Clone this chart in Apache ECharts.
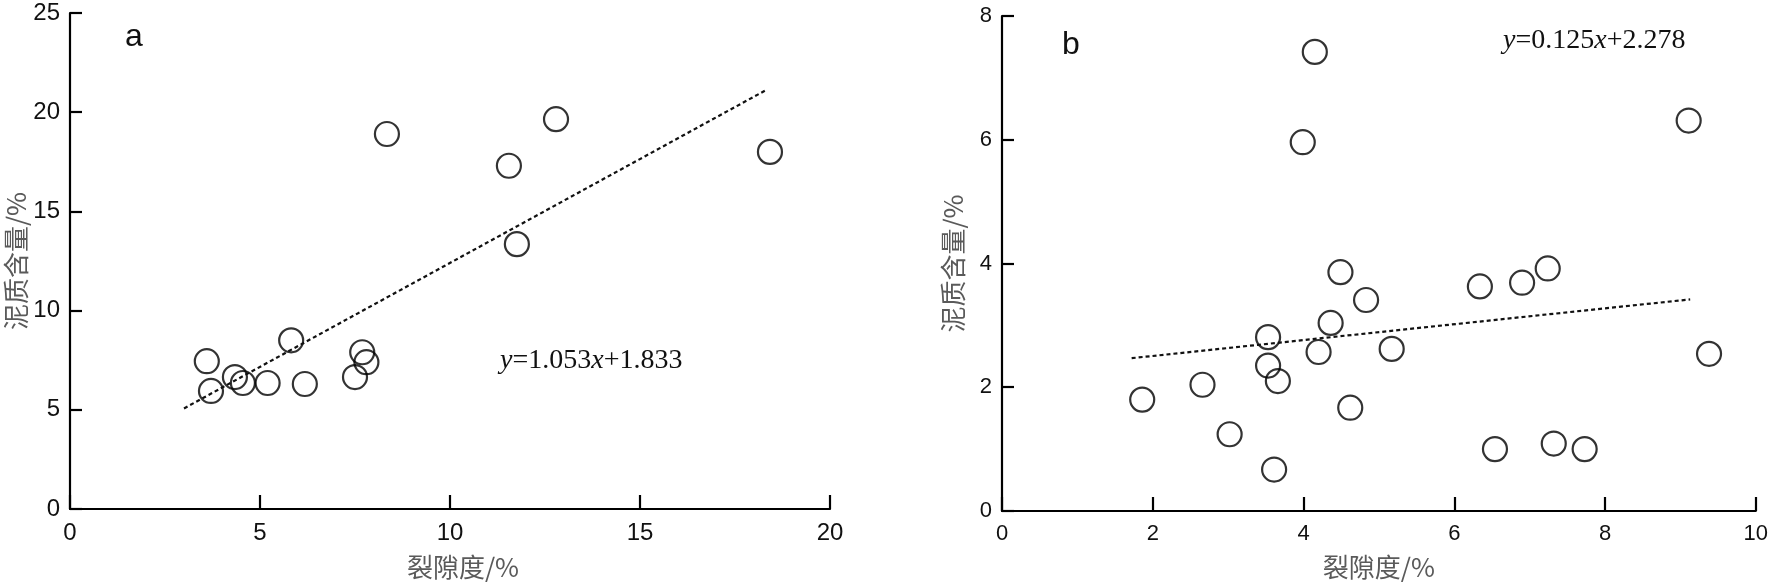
<!DOCTYPE html>
<html>
<head>
<meta charset="utf-8">
<script src="https://cdn.jsdelivr.net/npm/echarts@6/dist/echarts.min.js"></script>
<style>
  html, body { margin: 0; padding: 0; background: #fff; }
  #chart { width: 1771px; height: 585px; }
</style>
</head>
<body>
<div id="chart"></div>
<script>
// panel a: 裂隙度 vs 泥质含量
var aFracture = [3.6, 3.71, 4.34, 4.55, 5.2, 5.82, 6.18, 7.5, 7.69, 7.8, 8.34, 11.55, 11.76, 12.79, 18.42];
var aMud = [7.45, 5.95, 6.65, 6.35, 6.35, 8.5, 6.3, 6.65, 7.9, 7.4, 18.9, 17.3, 13.35, 19.65, 18.0];
var aFitLine = [[3.0, 5.07], [18.35, 21.15]];
var aEquation = ['1.053', '1.833'];

// panel b
var bFracture = [1.86, 2.66, 3.02, 3.53, 3.53, 3.66, 3.61, 3.99, 4.15, 4.2, 4.36, 4.49, 4.62, 4.83, 5.17, 6.34, 6.54, 6.9, 7.24, 7.32, 7.73, 9.11, 9.38];
var bMud = [1.8, 2.04, 1.24, 2.81, 2.35, 2.1, 0.67, 5.96, 7.42, 2.57, 3.04, 3.86, 1.67, 3.41, 2.62, 3.63, 1.0, 3.69, 3.92, 1.09, 1.0, 6.31, 2.54];
var bFitLine = [[1.72, 2.47], [9.13, 3.42]];
var bEquation = ['0.125', '2.278'];

var xName = '裂隙度/%';
var yName = '泥质含量/%';

function pairs(xs, ys) {
  var out = [];
  for (var i = 0; i < xs.length; i++) out.push([xs[i], ys[i]]);
  return out;
}

function axis(idx, min, max, interval, size, isX, tickLen, nameGap, namePad) {
  return {
    type: 'value',
    gridIndex: idx,
    position: isX ? 'bottom' : 'left',
    min: min,
    max: max,
    interval: interval,
    name: isX ? xName : yName,
    nameLocation: 'middle',
    nameGap: nameGap,
    nameTextStyle: {
      color: '#5a5a5a',
      fontSize: 26,
      fontFamily: 'Noto Sans CJK SC',
      padding: namePad || 0
    },
    axisLine: { show: true, onZero: false, lineStyle: { color: '#000', width: 2.2 } },
    axisTick: { show: true, inside: true, length: tickLen, lineStyle: { color: '#000', width: 2.2 } },
    axisLabel: {
      color: '#111',
      fontSize: size,
      fontFamily: 'Liberation Sans',
      margin: isX ? 12 : 10
    },
    splitLine: { show: false }
  };
}

var eqRich = {
  n: { fontFamily: 'Liberation Serif', fontSize: 28, fontWeight: 'normal', color: '#111' },
  i: { fontFamily: 'Liberation Serif', fontSize: 28, fontWeight: 'normal', fontStyle: 'italic', color: '#111' }
};

var circleStyle = {
  color: 'rgba(0,0,0,0)',
  borderColor: '#000',
  borderWidth: 2.2
};

var option = {
  animation: false,
  title: [
    { text: 'a', left: 120, top: 16, textStyle: { fontSize: 32, fontWeight: 'normal', color: '#111', fontFamily: 'Liberation Sans' } },
    { text: 'b', left: 1057, top: 24, textStyle: { fontSize: 32, fontWeight: 'normal', color: '#111', fontFamily: 'Liberation Sans' } },
    { text: '{i|y}{n|=' + aEquation[0] + '}{i|x}{n|+' + aEquation[1] + '}', left: 495, top: 342, textStyle: { fontWeight: 'normal', rich: eqRich } },
    { text: '{i|y}{n|=' + bEquation[0] + '}{i|x}{n|+' + bEquation[1] + '}', left: 1498, top: 22, textStyle: { fontWeight: 'normal', rich: eqRich } }
  ],
  grid: [
    { left: 70, right: 941, top: 13, bottom: 75 },
    { left: 1002, right: 12, top: 16, bottom: 71 }
  ],
  xAxis: [
    axis(0, 0, 20, 5, 24, true, 14, 45, [0, 0, 0, 26]),
    axis(1, 0, 10, 2, 22, true, 14, 43)
  ],
  yAxis: [
    axis(0, 0, 25, 5, 24, false, 12, 38),
    axis(1, 0, 8, 2, 22, false, 12, 36)
  ],
  series: [
    {
      type: 'line',
      xAxisIndex: 0,
      yAxisIndex: 0,
      symbol: 'none',
      lineStyle: { color: '#111', width: 2.2, type: [4, 3] },
      data: aFitLine
    },
    {
      type: 'scatter',
      xAxisIndex: 0,
      yAxisIndex: 0,
      symbol: 'circle',
      symbolSize: 24,
      itemStyle: circleStyle,
      data: pairs(aFracture, aMud)
    },
    {
      type: 'line',
      xAxisIndex: 1,
      yAxisIndex: 1,
      symbol: 'none',
      lineStyle: { color: '#111', width: 2.2, type: [4, 3] },
      data: bFitLine
    },
    {
      type: 'scatter',
      xAxisIndex: 1,
      yAxisIndex: 1,
      symbol: 'circle',
      symbolSize: 24,
      itemStyle: circleStyle,
      data: pairs(bFracture, bMud)
    }
  ]
};

var chart = echarts.init(document.getElementById('chart'));
chart.setOption(option);
</script>
</body>
</html>
